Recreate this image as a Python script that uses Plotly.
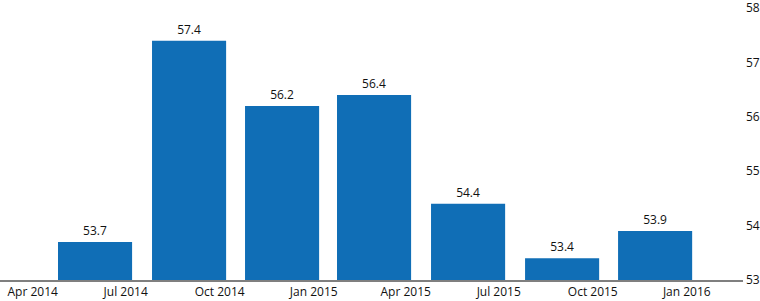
import plotly.graph_objects as go

dates = ["2014-06-01", "2014-09-01", "2014-12-01", "2015-03-01",
         "2015-06-01", "2015-09-01", "2015-12-01"]
values = [53.7, 57.4, 56.2, 56.4, 54.4, 53.4, 53.9]
tick_vals = ["2014-04-01", "2014-07-01", "2014-10-01", "2015-01-01",
             "2015-04-01", "2015-07-01", "2015-10-01", "2016-01-01"]
tick_labels = ["Apr 2014", "Jul 2014", "Oct 2014", "Jan 2015",
               "Apr 2015", "Jul 2015", "Oct 2015", "Jan 2016"]
y_ticks = [53, 54, 55, 56, 57, 58]

FONT = "Open Sans"
DAY_MS = 86400000

fig = go.Figure(go.Bar(
    x=dates, y=values,
    width=[72.5 * DAY_MS] * len(dates),
    marker=dict(color="#106eb6", line=dict(width=0)),
    text=[f"{v:.1f}" for v in values],
    textposition="outside",
    textfont=dict(family=FONT, size=12, color="#111111"),
    cliponaxis=False,
))

fig.update_layout(
    width=760, height=301,
    margin=dict(l=0, r=17, t=8, b=21),
    paper_bgcolor="white", plot_bgcolor="white",
    showlegend=False,
    xaxis=dict(
        type="date",
        range=["2014-02-28", "2016-02-25"],
        tickvals=tick_vals, ticktext=tick_labels,
        showgrid=False, zeroline=False, automargin=False,
        showline=True, linecolor="#7f7f7f", linewidth=2,
        ticks="", tickfont=dict(family=FONT, size=12, color="#111111"),
    ),
    yaxis=dict(
        side="right",
        range=[53, 58],
        tickvals=y_ticks, automargin=False,
        showgrid=False, zeroline=False, showline=False,
        ticks="", ticklabeloverflow="allow", ticklabelstandoff=2,
        tickfont=dict(family=FONT, size=12, color="#111111"),
    ),
)

fig.write_html("out.html")
